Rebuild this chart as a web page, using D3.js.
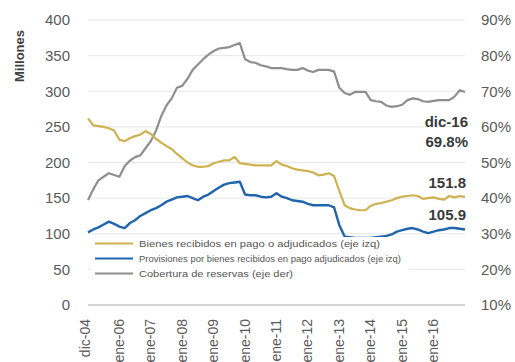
<!DOCTYPE html>
<html>
<head>
<meta charset="utf-8">
<script src="https://cdn.jsdelivr.net/npm/d3@7"></script>
<style>
  body { margin: 0; background: #fff; }
  svg { display: block; font-family: "Liberation Sans", Arial, sans-serif; }
</style>
</head>
<body>
<svg id="chart" width="515" height="362"></svg>
<script>
// Bi-monthly observations, dic-04 .. dic-16
const startPeriod = "2004-12";
const stepMonths = 2;

// Bienes recibidos en pago o adjudicados (millones, eje izq)
const bienes = [262, 252, 251, 250, 248, 245, 232, 230, 234, 237, 239, 244, 240, 233, 228, 223, 219, 212, 206, 200,
  196, 194, 194, 195, 199, 201, 203, 203, 208, 199, 198, 197, 196, 196, 196, 196, 202, 197, 195, 192,
  190, 189, 188, 186, 182, 183, 185, 181, 160, 140, 136, 134, 133, 133, 139, 142, 143, 145, 147, 150,
  152, 153, 154, 153, 149, 150, 151, 149, 148, 153, 151, 153, 151.8];

// Provisiones por bienes recibidos en pago adjudicados (millones, eje izq)
const provisiones = [102, 106, 109, 113, 117, 114, 110, 108, 115, 119, 125, 129, 133, 136, 140, 145, 148, 151, 152, 153,
  150, 147, 152, 155, 160, 165, 169, 171, 172, 173, 155, 154, 154, 152, 151, 152, 157, 152, 150, 147,
  146, 145, 142, 140, 140, 140, 140, 137, 112, 96, 95, 94, 94, 94, 94, 95, 96, 97, 99, 103,
  105, 107, 108, 106, 103, 101, 103, 105, 106, 108, 108, 107, 105.9];

// Cobertura de reservas (%, eje der)
const cobertura = [39.5, 42.5, 45, 46, 47, 46.5, 46, 49, 50.5, 51.5, 52, 54, 56, 59, 63, 66, 68, 71, 71.5, 73.5,
  76, 77.5, 79, 80.3, 81.3, 82, 82.2, 82.4, 83, 83.5, 79, 78.2, 78, 77.3, 77, 76.5, 76.5, 76.5, 76.2, 76,
  76, 76.5, 75.8, 75.4, 76, 76, 76, 75.5, 71, 69.5, 69, 69.8, 69.8, 69.8, 67.5, 67.2, 67, 66, 65.6, 65.8,
  66.2, 67.5, 68, 67.8, 67.2, 67, 67.3, 67.5, 67.5, 67.5, 68.5, 70.3, 69.8];

const leftTicks = [0, 50, 100, 150, 200, 250, 300, 350, 400];
const rightTicks = [10, 20, 30, 40, 50, 60, 70, 80, 90];
const xTickPeriods = ["2004-12", "2006-01", "2007-01", "2008-01", "2009-01", "2010-01",
  "2011-01", "2012-01", "2013-01", "2014-01", "2015-01", "2016-01"];
const xTickLabels = ["dic-04", "ene-06", "ene-07", "ene-08", "ene-09", "ene-10",
  "ene-11", "ene-12", "ene-13", "ene-14", "ene-15", "ene-16"];
const seriesNames = [
  "Bienes recibidos en pago o adjudicados (eje izq)",
  "Provisiones por bienes recibidos en pago adjudicados (eje izq)",
  "Cobertura de reservas (eje der)"
];
const lastPeriodLabel = "dic-16";

const colors = { bienes: "#cfb150", provisiones: "#1f64ad", cobertura: "#8e8e8e" };

const parse = d3.timeParse("%Y-%m");
const start = parse(startPeriod);
const dates = bienes.map((_, i) => d3.timeMonth.offset(start, i * stepMonths));

const svg = d3.select("#chart");
const x0 = 88, x1 = 465, yBottom = 305, yTop = 20;

const x = d3.scaleTime().domain([dates[0], dates[dates.length - 1]]).range([x0, x1]);
const yL = d3.scaleLinear().domain([0, 400]).range([yBottom, yTop]);
const yR = d3.scaleLinear().domain([10, 90]).range([yBottom, yTop]);

// gridlines
svg.append("g").selectAll("line")
  .data(leftTicks.filter(d => d > 0))
  .join("line")
  .attr("x1", x0).attr("x2", x1)
  .attr("y1", d => yL(d)).attr("y2", d => yL(d))
  .attr("stroke", "#e6e6e6").attr("stroke-width", 1);

// baseline
svg.append("line")
  .attr("x1", x0).attr("x2", x1)
  .attr("y1", yL(0)).attr("y2", yL(0))
  .attr("stroke", "#a8a8a8").attr("stroke-width", 1.2);

// left axis
const gL = svg.append("g").attr("transform", `translate(${x0},0)`)
  .call(d3.axisLeft(yL).tickValues(leftTicks).tickSize(0).tickPadding(18));
gL.select(".domain").remove();
gL.selectAll("text").attr("font-size", 15).attr("fill", "#5a5a5a")
  .attr("font-family", "Liberation Sans, Arial, sans-serif");

// right axis
const gR = svg.append("g").attr("transform", `translate(${x1},0)`)
  .call(d3.axisRight(yR).tickValues(rightTicks).tickSize(0).tickPadding(16).tickFormat(d => d + "%"));
gR.select(".domain").remove();
gR.selectAll("text").attr("font-size", 15).attr("fill", "#5a5a5a")
  .attr("font-family", "Liberation Sans, Arial, sans-serif");

// x labels (rotated)
svg.append("g").selectAll("text")
  .data(xTickPeriods)
  .join("text")
  .attr("transform", d => `translate(${x(parse(d)) - 3},319) rotate(-90)`)
  .attr("text-anchor", "end")
  .attr("dy", "0.35em")
  .attr("font-size", 14)
  .attr("fill", "#5a5a5a")
  .text((d, i) => xTickLabels[i]);

// y title
svg.append("text")
  .attr("transform", "translate(19,56) rotate(-90)")
  .attr("text-anchor", "middle")
  .attr("dy", "0.35em")
  .attr("font-size", 13)
  .attr("font-weight", "bold")
  .attr("fill", "#404040")
  .text("Millones");

// lines
const lineL = d3.line().x((d, i) => x(dates[i])).y(d => yL(d));
const lineR = d3.line().x((d, i) => x(dates[i])).y(d => yR(d));

svg.append("path").datum(cobertura).attr("d", lineR)
  .attr("fill", "none").attr("stroke", colors.cobertura).attr("stroke-width", 2.2).attr("stroke-linejoin", "round");
svg.append("path").datum(bienes).attr("d", lineL)
  .attr("fill", "none").attr("stroke", colors.bienes).attr("stroke-width", 2.2).attr("stroke-linejoin", "round");
svg.append("path").datum(provisiones).attr("d", lineL)
  .attr("fill", "none").attr("stroke", colors.provisiones).attr("stroke-width", 2.4).attr("stroke-linejoin", "round");

// legend
const legend = svg.append("g");
legend.append("rect").attr("x", 91).attr("y", 237).attr("width", 318).attr("height", 43).attr("fill", "#fff");
const legendRows = [
  { name: seriesNames[0], color: colors.bienes, y: 243.5, len: 241 },
  { name: seriesNames[1], color: colors.provisiones, y: 258.5, len: 262 },
  { name: seriesNames[2], color: colors.cobertura, y: 273.5, len: 154 }
];
legendRows.forEach(r => {
  legend.append("line").attr("x1", 95).attr("x2", 133).attr("y1", r.y).attr("y2", r.y)
    .attr("stroke", r.color).attr("stroke-width", 1.8);
  legend.append("text").attr("x", 139).attr("y", r.y).attr("dy", "0.35em")
    .attr("font-size", 9.5).attr("fill", "#555")
    .attr("textLength", r.len).attr("lengthAdjust", "spacingAndGlyphs")
    .text(r.name);
});

// end-of-series annotations
const fmt1 = d3.format(".1f");
const ann = svg.append("g").attr("font-weight", "bold").attr("font-size", 15)
  .attr("fill", "#3a3a3a").attr("text-anchor", "end");
ann.append("text").attr("x", 468).attr("y", 127).text(lastPeriodLabel);
ann.append("text").attr("x", 468).attr("y", 147).text(fmt1(cobertura[cobertura.length - 1]) + "%");
ann.append("text").attr("x", 466).attr("y", 188).text(fmt1(bienes[bienes.length - 1]));
ann.append("text").attr("x", 466).attr("y", 220).text(fmt1(provisiones[provisiones.length - 1]));
</script>
</body>
</html>
